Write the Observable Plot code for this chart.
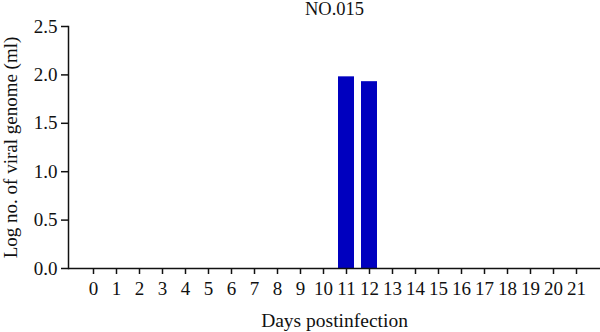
<!DOCTYPE html>
<html>
<head>
<meta charset="utf-8">
<script src="https://cdn.jsdelivr.net/npm/d3@7"></script>
<script src="https://cdn.jsdelivr.net/npm/@observablehq/plot@0.6"></script>
<style>
  html, body { margin: 0; padding: 0; background: #fff; }
  #chart svg { display: block; }
</style>
</head>
<body>
<div id="chart"></div>
<script>
const days = [0,1,2,3,4,5,6,7,8,9,10,11,12,13,14,15,16,17,18,19,20,21];
const genome = [0,0,0,0,0,0,0,0,0,0,0,1.98,1.93,0,0,0,0,0,0,0,0,0];
const yTicks = [0, 0.5, 1.0, 1.5, 2.0, 2.5];
const title = "NO.015";
const xLabel = "Days postinfection";
const yLabel = "Log no. of viral genome (ml)";

const data = days.map((d, i) => ({day: d, value: genome[i]}));
const font = "'Liberation Serif', 'DejaVu Serif', serif";

const chart = Plot.plot({
  width: 600,
  height: 332,
  marginLeft: 68,
  marginRight: 0,
  marginTop: 26,
  marginBottom: 64,
  style: {fontFamily: font, fontSize: "18px", color: "#111", background: "#fff"},
  x: {type: "band", domain: days, paddingInner: 0.32, paddingOuter: 0.377, label: null},
  y: {domain: [0, 2.5], label: null},
  marks: [
    Plot.barY(data, {x: "day", y: "value", fill: "#0000bf"}),
    Plot.ruleY([0], {stroke: "#111", strokeWidth: 1.5}),
    Plot.frame({anchor: "left", stroke: "#111", strokeWidth: 1.5}),
    Plot.axisY({ticks: yTicks, tickFormat: d3.format(".1f"), tickSize: 7, tickPadding: 4, strokeWidth: 1.5, fontSize: 19, label: null}),
    Plot.axisX({tickSize: 6, tickPadding: 7, strokeWidth: 1.5, fontSize: 19, label: null}),
    Plot.text([title], {frameAnchor: "top", dy: -17, lineAnchor: "middle", fontSize: 18.5, fill: "#111"}),
    Plot.text([xLabel], {frameAnchor: "bottom", dy: 52, lineAnchor: "middle", fontSize: 19.5, fill: "#111"}),
    Plot.text([yLabel], {frameAnchor: "left", dx: -58, rotate: -90, textAnchor: "middle", lineAnchor: "middle", fontSize: 19, fill: "#111"})
  ]
});
document.getElementById("chart").appendChild(chart);
</script>
</body>
</html>
